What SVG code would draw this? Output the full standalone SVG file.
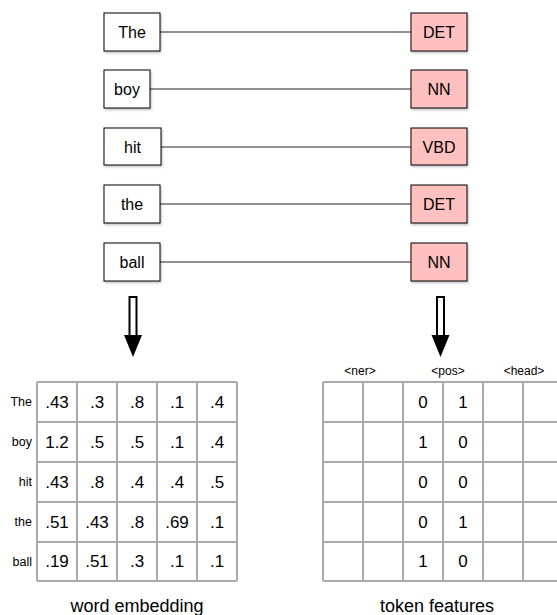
<svg xmlns="http://www.w3.org/2000/svg" width="557" height="615" viewBox="0 0 557 615">
<defs>
<filter id="sh" x="-20%" y="-20%" width="150%" height="150%">
<feDropShadow dx="1" dy="1.5" stdDeviation="1" flood-color="#000" flood-opacity="0.25"/>
</filter>
</defs>
<style>
.w{fill:#fff;stroke:#000;stroke-width:1;filter:url(#sh)}
.p{fill:#ffc0c0;stroke:#000;stroke-width:1;filter:url(#sh)}
.t{font-family:"Liberation Sans",Arial,sans-serif;font-size:16px;fill:#000;text-anchor:middle}
.b{font-family:"Liberation Sans",Arial,sans-serif;font-size:18px;fill:#000;text-anchor:middle}
.c{font-family:"Liberation Sans",Arial,sans-serif;font-size:17px;fill:#000;text-anchor:middle}
.r{font-family:"Liberation Sans",Arial,sans-serif;font-size:12.5px;fill:#000;text-anchor:end}
.h{font-family:"Liberation Sans",Arial,sans-serif;font-size:12px;fill:#000;text-anchor:middle}
.g{fill:none;stroke:#aaa;stroke-width:2}
.e{stroke:#222;stroke-width:1;fill:none}
</style>
<rect width="557" height="615" fill="#fff"/>
<g id="connectors">
<path class="e" d="M160 32H411M150 89H411M161 147H411M160 204H411M160 262H411"/>
<g id="arrow-left">
<rect x="129.5" y="297" width="7" height="39" fill="#fff" stroke="#000" stroke-width="2"/>
<polygon points="124,335 142,335 133,357" fill="#000"/>
</g>
<g id="arrow-right">
<rect x="437" y="297" width="7" height="39" fill="#fff" stroke="#000" stroke-width="2"/>
<polygon points="431.5,335 449.5,335 440.5,357" fill="#000"/>
</g>
</g>
<g id="w1"><rect class="w" x="104" y="13" width="56" height="38"/><text class="t" x="132" y="38">The</text></g>
<g id="w2"><rect class="w" x="104" y="70" width="46" height="38"/><text class="t" x="127" y="95">boy</text></g>
<g id="w3"><rect class="w" x="104" y="128" width="57" height="37"/><text class="t" x="132.5" y="152.5">hit</text></g>
<g id="w4"><rect class="w" x="104" y="185" width="56" height="38"/><text class="t" x="132" y="210">the</text></g>
<g id="w5"><rect class="w" x="104" y="243" width="56" height="38"/><text class="t" x="132" y="268">ball</text></g>
<g id="p1"><rect class="p" x="411" y="13" width="56" height="38"/><text class="t" x="439" y="38">DET</text></g>
<g id="p2"><rect class="p" x="411" y="70" width="56" height="38"/><text class="t" x="439" y="95">NN</text></g>
<g id="p3"><rect class="p" x="411" y="128" width="56" height="37"/><text class="t" x="439" y="152.5">VBD</text></g>
<g id="p4"><rect class="p" x="411" y="185" width="56" height="38"/><text class="t" x="439" y="210">DET</text></g>
<g id="p5"><rect class="p" x="411" y="243" width="56" height="38"/><text class="t" x="439" y="268">NN</text></g>
<g id="embedding">
<path class="g" d="M37 382V581M77 382V581M117 382V581M157 382V581M197 382V581M237 382V581M37 382H237M37 422H237M37 462H237M37 502H237M37 542H237M37 581H237"/>
<text class="r" x="32" y="406">The</text>
<text class="r" x="32" y="446">boy</text>
<text class="r" x="32" y="486">hit</text>
<text class="r" x="32" y="526">the</text>
<text class="r" x="32" y="566">ball</text>
<text class="c" x="57" y="408">.43</text><text class="c" x="97" y="408">.3</text><text class="c" x="137" y="408">.8</text><text class="c" x="177" y="408">.1</text><text class="c" x="217" y="408">.4</text>
<text class="c" x="57" y="448">1.2</text><text class="c" x="97" y="448">.5</text><text class="c" x="137" y="448">.5</text><text class="c" x="177" y="448">.1</text><text class="c" x="217" y="448">.4</text>
<text class="c" x="57" y="488">.43</text><text class="c" x="97" y="488">.8</text><text class="c" x="137" y="488">.4</text><text class="c" x="177" y="488">.4</text><text class="c" x="217" y="488">.5</text>
<text class="c" x="57" y="528">.51</text><text class="c" x="97" y="528">.43</text><text class="c" x="137" y="528">.8</text><text class="c" x="177" y="528">.69</text><text class="c" x="217" y="528">.1</text>
<text class="c" x="57" y="567">.19</text><text class="c" x="97" y="567">.51</text><text class="c" x="137" y="567">.3</text><text class="c" x="177" y="567">.1</text><text class="c" x="217" y="567">.1</text>
<text class="b" x="137" y="612">word embedding</text>
</g>
<g id="features">
<path class="g" d="M323 382V581M363 382V581M403 382V581M443 382V581M483 382V581M523 382V581M323 382H560M323 422H560M323 462H560M323 502H560M323 542H560M323 581H560"/>
<text class="h" x="360" y="375">&lt;ner&gt;</text>
<text class="h" x="448" y="375">&lt;pos&gt;</text>
<text class="h" x="524" y="375">&lt;head&gt;</text>
<text class="c" x="423" y="408">0</text><text class="c" x="463" y="408">1</text>
<text class="c" x="423" y="448">1</text><text class="c" x="463" y="448">0</text>
<text class="c" x="423" y="488">0</text><text class="c" x="463" y="488">0</text>
<text class="c" x="423" y="528">0</text><text class="c" x="463" y="528">1</text>
<text class="c" x="423" y="567">1</text><text class="c" x="463" y="567">0</text>
<text class="b" x="437" y="612">token features</text>
</g>
</svg>
